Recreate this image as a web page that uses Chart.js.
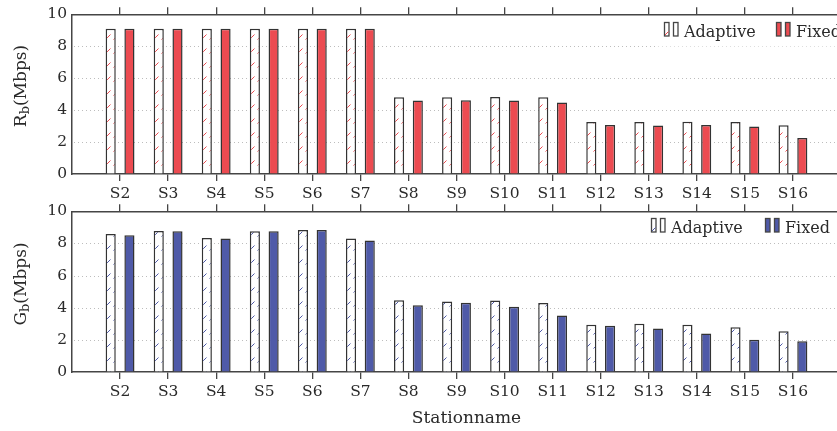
<!DOCTYPE html>
<html>
<head>
<meta charset="utf-8">
<script src="https://cdn.jsdelivr.net/npm/chart.js@4/dist/chart.umd.min.js"></script>
<style>
  html, body { margin: 0; padding: 0; background: #fff; overflow: hidden; width: 837px; height: 431px; }
  .panel { position: absolute; left: 0; }
  #topPanel { top: 0; }
  #bottomPanel { top: 197px; }
</style>
</head>
<body>
<div class="panel" id="topPanel"><canvas id="rbChart" width="845" height="204"></canvas></div>
<div class="panel" id="bottomPanel"><canvas id="gbChart" width="845" height="234"></canvas></div>
<script>
// Stations along the route
const stations = ['S2', 'S3', 'S4', 'S5', 'S6', 'S7', 'S8', 'S9', 'S10', 'S11', 'S12', 'S13', 'S14', 'S15', 'S16'];

// Rb (Mbps) per station
const rbAdaptive = [9.1, 9.1, 9.1, 9.1, 9.1, 9.1, 4.81, 4.81, 4.82, 4.81, 3.25, 3.25, 3.27, 3.25, 3.05];
const rbFixed    = [9.1, 9.1, 9.1, 9.1, 9.1, 9.1, 4.60, 4.62, 4.60, 4.48, 3.07, 3.03, 3.07, 2.98, 2.26];

// Gb (Mbps) per station
const gbAdaptive = [8.59, 8.78, 8.34, 8.76, 8.84, 8.30, 4.47, 4.39, 4.45, 4.29, 2.94, 3.00, 2.94, 2.78, 2.53];
const gbFixed    = [8.51, 8.76, 8.30, 8.76, 8.84, 8.18, 4.16, 4.31, 4.06, 3.52, 2.88, 2.71, 2.40, 2.01, 1.91];

const yTicks = [0, 2, 4, 6, 8, 10];

const RED = '#ec4b51';
const BLUE = '#4f5aa8';
const INK = '#2a2a2a';
const FRAME = '#454545';
const FONT = '"DejaVu Serif", serif';

// one empty slot on each side of the stations keeps the frame edges off the bars
const labels = ['', ...stations, ''];
const pad = arr => [null, ...arr, null];

function hatchPattern(ctx, color) {
  const c = document.createElement('canvas');
  c.width = 8; c.height = 14;
  const g = c.getContext('2d');
  g.fillStyle = '#fff';
  g.fillRect(0, 0, 8, 14);
  g.strokeStyle = color;
  g.lineWidth = 1;
  g.beginPath();
  g.moveTo(1.5, 11.5);
  g.lineTo(6.5, 6.5);
  g.stroke();
  return ctx.createPattern(c, 'repeat');
}

const decorPlugin = {
  id: 'decor',
  beforeDatasetsDraw(chart) {
    const { ctx, chartArea: a, scales: { y } } = chart;
    ctx.save();
    ctx.strokeStyle = '#bdbdbd';
    ctx.lineWidth = 1;
    ctx.setLineDash([1, 3]);
    yTicks.forEach(v => {
      if (v <= y.min || v >= y.max) return;
      const py = Math.round(y.getPixelForValue(v)) + 0.5;
      ctx.beginPath();
      ctx.moveTo(a.left + 2, py);
      ctx.lineTo(a.right, py);
      ctx.stroke();
    });
    ctx.restore();
  },
  afterDatasetsDraw(chart, args, o) {
    const { ctx, chartArea: a } = chart;
    ctx.save();
    // legend, on a white card inside the plot frame
    ctx.fillStyle = '#fff';
    ctx.fillRect(o.legendX - 8, o.legendBase - 18, a.right - o.legendX + 6, 28);
    ctx.font = '16px ' + FONT;
    ctx.textBaseline = 'alphabetic';
    ctx.textAlign = 'left';
    chart.data.datasets.forEach((ds, i) => {
      const x = o.legendX + i * o.legendStep;
      const top = o.legendBase - 14.5;
      ctx.lineWidth = 1.3;
      ctx.strokeStyle = FRAME;
      for (let k = 0; k < 2; k++) {
        const rx = x + k * 9;
        ctx.fillStyle = i === 0 ? '#fff' : o.color;
        ctx.fillRect(rx, top, 5, 14);
        ctx.strokeRect(rx + 0.5, top + 0.5, 4.5, 13.5);
      }
      if (i === 0) {
        ctx.strokeStyle = o.color;
        ctx.lineWidth = 1;
        ctx.beginPath();
        ctx.moveTo(x + 1, top + 13);
        ctx.lineTo(x + 4.5, top + 9.5);
        ctx.stroke();
      }
      ctx.fillStyle = INK;
      ctx.fillText(ds.label, x + 20, o.legendBase);
    });
    // y-axis title with subscript
    ctx.translate(o.titleX, o.titleY);
    ctx.rotate(-Math.PI / 2);
    ctx.fillStyle = INK;
    ctx.textBaseline = 'middle';
    const main = '17px ' + FONT, sub = '13px ' + FONT;
    ctx.font = main; const w1 = ctx.measureText(o.titleMain).width;
    const w3 = ctx.measureText(o.titleRest).width;
    ctx.font = sub; const w2 = ctx.measureText(o.titleSub).width;
    let tx = -(w1 + w2 + w3) / 2;
    ctx.font = main; ctx.fillText(o.titleMain, tx, 0); tx += w1;
    ctx.font = sub; ctx.fillText(o.titleSub, tx, 4); tx += w2;
    ctx.font = main; ctx.fillText(o.titleRest, tx, 0);
    ctx.restore();
    if (o.xTitle) {
      ctx.save();
      ctx.font = '17px ' + FONT;
      ctx.fillStyle = INK;
      ctx.textAlign = 'center';
      ctx.textBaseline = 'alphabetic';
      ctx.fillText(o.xTitle, (a.left + a.right) / 2 + 10, o.xTitleBase);
      ctx.restore();
    }
  }
};

function tickColor(c) {
  return (c.index === 0 || c.index === labels.length - 1) ? 'rgba(0,0,0,0)' : FRAME;
}

function makeChart(id, adaptive, fixed, color, bottomHeight, decor) {
  const canvas = document.getElementById(id);
  const ctx = canvas.getContext('2d');
  const barStyle = {
    borderColor: '#333',
    borderWidth: 1.5,
    categoryPercentage: 0.78,
    barPercentage: 0.54
  };
  return new Chart(ctx, {
    type: 'bar',
    data: {
      labels: labels,
      datasets: [
        Object.assign({ label: 'Adaptive', data: pad(adaptive), backgroundColor: hatchPattern(ctx, color) }, barStyle),
        Object.assign({ label: 'Fixed', data: pad(fixed), backgroundColor: color }, barStyle)
      ]
    },
    options: {
      responsive: false,
      animation: false,
      devicePixelRatio: 1,
      layout: { padding: 0 },
      plugins: {
        legend: { display: false },
        tooltip: { enabled: false },
        decor: Object.assign({ color: color }, decor)
      },
      scales: {
        x: {
          type: 'category',
          offset: false,
          grid: { offset: false, drawOnChartArea: false, drawTicks: true, tickLength: 7, lineWidth: 1.3, color: tickColor },
          border: { display: true, color: FRAME, width: 1.5 },
          ticks: { autoSkip: false, maxRotation: 0, padding: 4, color: INK, font: { family: FONT, size: 15.5 } },
          afterFit: s => { s.height = bottomHeight; }
        },
        x2: {
          type: 'category',
          position: 'top',
          offset: false,
          grid: { offset: false, drawOnChartArea: false, drawTicks: true, tickLength: 7, lineWidth: 1.3, color: tickColor },
          border: { display: true, color: FRAME, width: 1.5 },
          ticks: { display: false },
          afterFit: s => { s.height = decor.topHeight; }
        },
        y: {
          min: 0,
          max: 10,
          grid: { display: true, drawOnChartArea: false, drawTicks: false },
          border: { display: true, color: FRAME, width: 1.5 },
          ticks: { padding: 5, color: INK, font: { family: FONT, size: 15.5 } },
          afterBuildTicks: s => { s.ticks = yTicks.map(v => ({ value: v })); },
          afterFit: s => { s.width = 72; }
        }
      }
    },
    plugins: [decorPlugin]
  });
}

makeChart('rbChart', rbAdaptive, rbFixed, RED, 30, {
  topHeight: 13,
  legendX: 664, legendStep: 112, legendBase: 36.5,
  titleX: 22, titleY: 86, titleMain: 'R', titleSub: 'b', titleRest: '(Mbps)'
});

makeChart('gbChart', gbAdaptive, gbFixed, BLUE, 59, {
  topHeight: 14,
  legendX: 651, legendStep: 114, legendBase: 35.5,
  titleX: 22, titleY: 87, titleMain: 'G', titleSub: 'b', titleRest: '(Mbps)',
  xTitle: 'Stationname', xTitleBase: 226
});
</script>
</body>
</html>
